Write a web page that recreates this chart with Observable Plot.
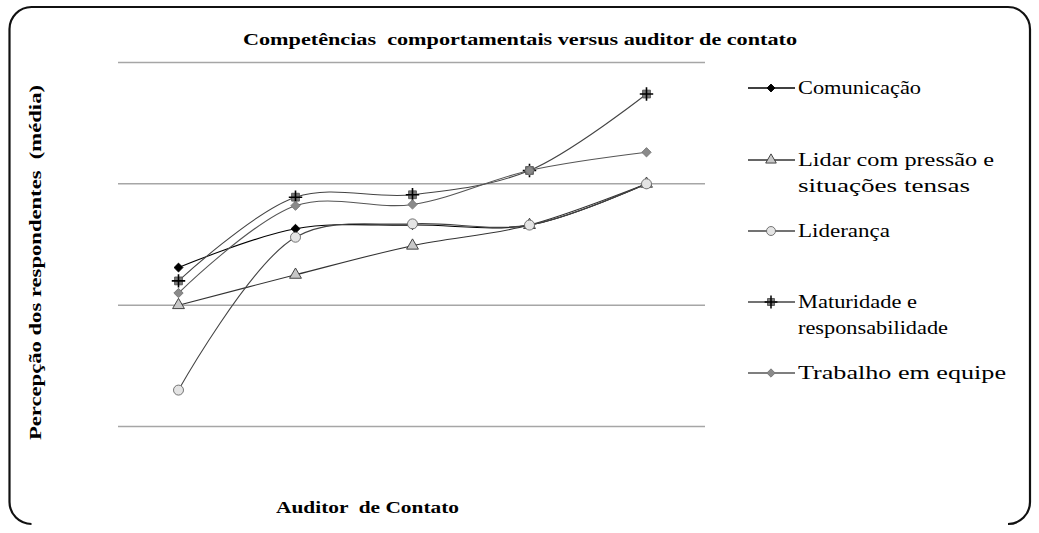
<!DOCTYPE html>
<html>
<head>
<meta charset="utf-8">
<script src="https://cdn.jsdelivr.net/npm/d3@7"></script>
<script src="https://cdn.jsdelivr.net/npm/@observablehq/plot@0.6"></script>
<style>
  html, body { margin: 0; padding: 0; background: #fff; }
  #chart { position: relative; width: 1039px; height: 533px; }
  .lbl { position: absolute; white-space: pre; font-family: "Liberation Serif", "Times New Roman", Times, serif; color: #000; line-height: 1; transform-origin: 0 0; }
</style>
</head>
<body>
<div id="chart"></div>
<script>
// ---- data ----
const categories = ["1", "2", "3", "4", "5"];
const seriesNames = [
  "Comunicação",
  "Lidar com pressão e situações tensas",
  "Liderança",
  "Maturidade e responsabilidade",
  "Trabalho em equipe"
];
const comunicacao = [3.31, 3.63, 3.66, 3.66, 4.00];
const lidar       = [3.00, 3.25, 3.49, 3.66, 4.00];
const lideranca   = [2.30, 3.56, 3.67, 3.66, 4.00];
const maturidade  = [3.20, 3.89, 3.91, 4.11, 4.74];
const trabalho    = [3.10, 3.82, 3.83, 4.11, 4.26];
const gridTicks = [2, 3, 4, 5];
const title = "Competências  comportamentais versus auditor de contato";
const yLabel = "Percepção dos respondentes  (média)";
const xLabel = "Auditor  de Contato";
const legendLines = [
  ["Comunicação"],
  ["Lidar com pressão e", "situações tensas"],
  ["Liderança"],
  ["Maturidade e", "responsabilidade"],
  ["Trabalho em equipe"]
];

const values = [comunicacao, lidar, lideranca, maturidade, trabalho];
const rows = [];
values.forEach((arr, si) => arr.forEach((v, i) => rows.push({series: seriesNames[si], cat: categories[i], value: v})));
const bySeries = name => rows.filter(d => d.series === name);

const styles = {
  "Comunicação": {line: "#000", symbol: "diamond2", fill: "#000", stroke: "#000", r: 4},
  "Lidar com pressão e situações tensas": {line: "#333", symbol: "triangle", fill: "#c8c8c8", stroke: "#333", r: 4.4},
  "Liderança": {line: "#444", symbol: "circle", fill: "#e4e4e4", stroke: "#666", r: 5},
  "Maturidade e responsabilidade": {line: "#444", symbol: "square", fill: "#777", stroke: "#555", r: 4.4},
  "Trabalho em equipe": {line: "#555", symbol: "diamond2", fill: "#8a8a8a", stroke: "#777", r: 4.2}
};

const marks = [Plot.ruleY(gridTicks, {stroke: "#a6a6a6", strokeWidth: 1.5})];
for (const name of seriesNames) {
  const s = styles[name];
  marks.push(Plot.line(bySeries(name), {x: "cat", y: "value", curve: "catmull-rom", stroke: s.line, strokeWidth: 1.1}));
}
for (const name of seriesNames) {
  const s = styles[name];
  marks.push(Plot.dot(bySeries(name), {x: "cat", y: "value", symbol: () => s.symbol, r: s.r, fill: s.fill, stroke: s.stroke, strokeWidth: 0.9}));
  if (name === "Maturidade e responsabilidade") {
    marks.push(Plot.dot(bySeries(name), {x: "cat", y: "value", symbol: () => "plus", r: 4.4, stroke: "#000", strokeWidth: 1.6}));
  }
}

const svg = Plot.plot({
  width: 1039,
  height: 533,
  marginLeft: 118,
  marginRight: 334,
  marginTop: 62,
  marginBottom: 107,
  x: {type: "point", domain: categories, padding: 0.5, axis: null},
  y: {domain: [2, 5], axis: null},
  marks
});
const chart = document.getElementById("chart");
chart.appendChild(svg);

// ---- decorations (frame + legend samples) ----
const g = d3.select(svg).append("g");
const L = 9.5, T = 7, R = 1030, B = 524, rad = 22;
g.append("path")
  .attr("d", `M${L + rad},${B} A${rad},${rad} 0 0 1 ${L},${B - rad} L${L},${T + rad} A${rad},${rad} 0 0 1 ${L + rad},${T} L${R - rad},${T} A${rad},${rad} 0 0 1 ${R},${T + rad} L${R},${B - rad} A${rad},${rad} 0 0 1 ${R - rad},${B}`)
  .attr("fill", "none").attr("stroke", "#111").attr("stroke-width", 2.2);

// HTML text, stretched horizontally to the reference widths
function label(text, {x, top, size, bold = false, width, rotate = false}) {
  const el = document.createElement("div");
  el.className = "lbl";
  el.textContent = text;
  el.style.fontSize = size + "px";
  if (bold) el.style.fontWeight = "bold";
  chart.appendChild(el);
  const nat = el.getBoundingClientRect().width;
  const sx = width / nat;
  el.style.left = x + "px";
  if (!rotate) {
    el.style.top = top + "px";
    el.style.transform = `scaleX(${sx})`;
  } else {
    el.style.top = (top + width / 2) + "px";
    el.style.transform = `rotate(-90deg) scaleX(${sx})`;
  }
}

label(title, {x: 243, top: 31, size: 17, bold: true, width: 554});
label(yLabel, {x: 27, top: 262, size: 17, bold: true, width: 355, rotate: true});
label(xLabel, {x: 276, top: 499, size: 17, bold: true, width: 183});

const legendY = [88, 160, 231, 302, 373];
const legendW = [[123], [196, 172], [92], [119, 150], [208]];
seriesNames.forEach((name, i) => {
  const s = styles[name];
  const y = legendY[i];
  g.append("line").attr("x1", 748).attr("x2", 795).attr("y1", y).attr("y2", y).attr("stroke", s.line).attr("stroke-width", 1.3);
  const symType = {diamond2: d3.symbolDiamond2, triangle: d3.symbolTriangle, circle: d3.symbolCircle, square: d3.symbolSquare}[s.symbol];
  g.append("path").attr("d", d3.symbol(symType, Math.PI * s.r * s.r * 0.8)()).attr("transform", `translate(771,${y})`)
    .attr("fill", s.fill).attr("stroke", s.stroke).attr("stroke-width", 0.9);
  if (name === "Maturidade e responsabilidade") {
    g.append("path").attr("d", d3.symbol(d3.symbolPlus, Math.PI * 4.2 * 4.2)()).attr("transform", `translate(771,${y})`)
      .attr("fill", "none").attr("stroke", "#000").attr("stroke-width", 1.5);
  }
  legendLines[i].forEach((t, j) => {
    label(t, {x: 798, top: y - 10 + j * 26, size: 19, width: legendW[i][j]});
  });
});
</script>
</body>
</html>
